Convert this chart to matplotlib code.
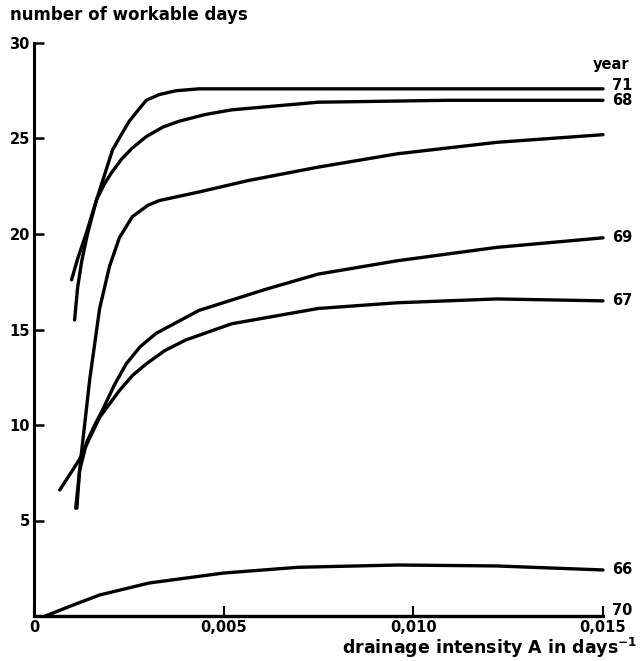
import matplotlib
matplotlib.use("Agg")
import matplotlib.pyplot as plt

# ---- data ----
x71 = [0.00107, 0.00115, 0.00126, 0.00141, 0.00165, 0.00186, 0.00207, 0.00230, 0.00251, 0.00275, 0.00296, 0.00330, 0.00374, 0.00435, 0.0070, 0.0110, 0.0150]
y71 = [15.5, 17.2, 18.6, 20.0, 21.8, 23.1, 24.4, 25.2, 25.9, 26.5, 27.0, 27.3, 27.5, 27.6, 27.6, 27.6, 27.6]

x68 = [0.00099, 0.00115, 0.00138, 0.00165, 0.00185, 0.00204, 0.00230, 0.00259, 0.00296, 0.00340, 0.00382, 0.00450, 0.00521, 0.00749, 0.0109, 0.0150]
y68 = [17.6, 18.7, 20.05, 21.8, 22.6, 23.2, 23.9, 24.5, 25.1, 25.6, 25.9, 26.25, 26.5, 26.9, 27.0, 27.0]

xU = [0.00110, 0.00126, 0.00147, 0.00173, 0.00199, 0.00225, 0.00259, 0.00300, 0.00330, 0.00435, 0.00565, 0.00749, 0.00958, 0.0122, 0.0150]
yU = [5.65, 8.7, 12.4, 16.1, 18.3, 19.8, 20.9, 21.5, 21.75, 22.2, 22.8, 23.5, 24.2, 24.8, 25.2]

x69 = [0.00113, 0.00120, 0.00139, 0.00160, 0.00181, 0.00212, 0.00243, 0.00280, 0.00322, 0.00435, 0.00610, 0.00749, 0.00958, 0.0122, 0.0150]
y69 = [5.65, 7.6, 9.1, 10.0, 10.8, 12.1, 13.2, 14.1, 14.8, 16.0, 17.1, 17.9, 18.6, 19.3, 19.8]

x67 = [0.00068, 0.00120, 0.00173, 0.00225, 0.00260, 0.00296, 0.00345, 0.00400, 0.00521, 0.00749, 0.00958, 0.0122, 0.0150]
y67 = [6.6, 8.2, 10.4, 11.8, 12.6, 13.2, 13.9, 14.45, 15.3, 16.1, 16.4, 16.6, 16.5]

x66 = [0.00030, 0.00100, 0.00173, 0.00304, 0.00500, 0.00696, 0.00960, 0.0122, 0.0150]
y66 = [0.0, 0.55, 1.1, 1.73, 2.25, 2.55, 2.67, 2.62, 2.41]

x70 = [0.0, 0.0150]
y70 = [0.0, 0.0]

end_labels = ["71", "68", "69", "67", "66", "70"]
end_values = [27.75, 27.0, 19.8, 16.5, 2.41, 0.3]

xticks = [0.0, 0.005, 0.010, 0.015]
xtick_labels = ["0", "0,005", "0,010", "0,015"]
yticks = [5, 10, 15, 20, 25, 30]
ytick_labels = ["5", "10", "15", "20", "25", "30"]

# ---- figure ----
fig = plt.figure(figsize=(6.4, 6.61), dpi=100)
ax = fig.add_axes([34/640, 45/661, (603-34)/640, (618-45)/661])
ax.set_xlim(0, 0.015)
ax.set_ylim(0, 30)

lw = 2.4
for xs, ys in [(x71, y71), (x68, y68), (xU, yU), (x69, y69), (x67, y67), (x66, y66), (x70, y70)]:
    ax.plot(xs, ys, color="black", lw=lw, solid_capstyle="round", solid_joinstyle="round", clip_on=False)

for s in ["top", "right"]:
    ax.spines[s].set_visible(False)
for s in ["left", "bottom"]:
    ax.spines[s].set_linewidth(2.2)

ax.set_xticks(xticks)
ax.set_xticklabels(xtick_labels, fontsize=10.5, fontweight="bold")
ax.set_yticks(yticks)
ax.set_yticklabels(ytick_labels, fontsize=10.5, fontweight="bold")
ax.tick_params(axis="y", direction="in", length=7, width=1.8, pad=3)
ax.tick_params(axis="x", direction="in", length=7, width=1.5, pad=3)

for lab, v in zip(end_labels, end_values):
    ax.annotate(lab, xy=(0.015, v), xytext=(9, 0), textcoords="offset pixels",
                ha="left", va="center", fontsize=10.5, fontweight="bold", annotation_clip=False)

ax.text(0.01474, 28.9, "year", ha="left", va="center", fontsize=10.5, fontweight="bold")

fig.text(10/640, 1 - 15/661, "number of workable days", ha="left", va="center",
         fontsize=12, fontweight="bold")
fig.text(637/640, 1 - 648/661, r"drainage intensity A in days$^{\mathbf{-1}}$", ha="right", va="center",
         fontsize=12.5, fontweight="bold")

fig.savefig("out.png", dpi=100)
